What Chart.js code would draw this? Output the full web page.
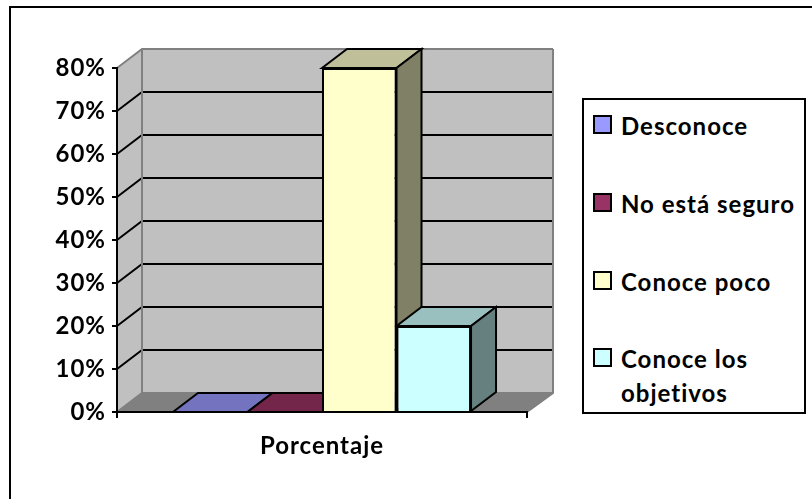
<!DOCTYPE html>
<html>
<head>
<meta charset="utf-8">
<script src="https://cdn.jsdelivr.net/npm/chart.js@4/dist/chart.umd.min.js"></script>
<style>
    html, body { margin: 0; padding: 0; background: #fff; }
    #wrap { position: relative; width: 812px; height: 499px; overflow: hidden; font-family: Lato, sans-serif; }
    #frame { position: absolute; left: 9px; top: 6px; width: 900px; height: 900px; border: 2px solid #000; box-sizing: content-box; }
    #chart { position: absolute; left: 0; top: 0; }
    #legend { position: absolute; left: 582px; top: 98px; width: 220px; height: 312px; border: 2px solid #000; background: #fff; }
    .item { position: absolute; left: 37px; width: 182px; font-size: 24px; font-weight: 700; letter-spacing: 1px; line-height: 34px; color: #000; }
    .swatch { position: absolute; left: 9px; width: 15px; height: 15px; border: 2px solid #000; }
</style>
</head>
<body>
<div id="wrap">
    <div id="frame"></div>
    <canvas id="chart" width="812" height="499"></canvas>
    <div id="legend"></div>
</div>
<script>
// --- Data ---
const categories = ['Porcentaje'];
const seriesNames = ['Desconoce', 'No está seguro', 'Conoce poco', 'Conoce los objetivos'];
const seriesValues = [0, 0, 80, 20];
const yTicks = [0, 10, 20, 30, 40, 50, 60, 70, 80];

// --- Colours (front, top, side) ---
const frontColors = ['#9999ff', '#993366', '#ffffcc', '#ccffff'];
const topColors = ['#7373bf', '#732649', '#bfbf99', '#99bfbf'];
const sideColors = ['#666680', '#4d1a33', '#808066', '#668080'];

// depth of the fake 3d box
const depthX = 25;
const depthY = 19;

function poly(ctx, pts, fill, stroke, width) {
    ctx.beginPath();
    pts.forEach((p, i) => i ? ctx.lineTo(p[0], p[1]) : ctx.moveTo(p[0], p[1]));
    ctx.closePath();
    if (fill) {
        ctx.fillStyle = fill;
        ctx.fill();
    }
    if (stroke) {
        ctx.strokeStyle = stroke;
        ctx.lineWidth = width;
        ctx.stroke();
    }
}

// walls, floor and gridlines go under the axes
const walls = {
    id: 'walls',
    beforeDraw(chart) {
        const { ctx, chartArea: a, scales: { y } } = chart;
        ctx.letterSpacing = '1px';
        const wallRight = a.right + depthX + 1;
        poly(ctx, [[a.left + depthX, a.top - depthY], [wallRight, a.top - depthY], [wallRight, a.bottom - depthY], [a.left + depthX, a.bottom - depthY]], '#c0c0c0');
        poly(ctx, [[a.left, a.top], [a.left + depthX, a.top - depthY], [a.left + depthX, a.bottom - depthY], [a.left, a.bottom]], '#c0c0c0');
        poly(ctx, [[a.left, a.bottom], [a.left + depthX, a.bottom - depthY], [wallRight, a.bottom - depthY], [a.right, a.bottom]], '#808080');

        yTicks.forEach(v => {
            const py = y.getPixelForValue(v);
            const edge = v === yTicks[0] || v === yTicks[yTicks.length - 1];
            ctx.beginPath();
            ctx.moveTo(a.left, py);
            ctx.lineTo(a.left + depthX, py - depthY);
            ctx.lineTo(wallRight, py - depthY);
            ctx.strokeStyle = edge ? '#808080' : '#000';
            ctx.lineWidth = 2;
            ctx.stroke();
        });

        ctx.beginPath();
        ctx.moveTo(a.left + depthX, a.top - depthY);
        ctx.lineTo(a.left + depthX, a.bottom - depthY);
        ctx.moveTo(wallRight, a.top - depthY);
        ctx.lineTo(wallRight, a.bottom - depthY);
        ctx.lineTo(a.right, a.bottom);
        ctx.strokeStyle = '#808080';
        ctx.lineWidth = 2;
        ctx.stroke();
    },
    // top and side of every bar, left to right, before the front faces
    beforeDatasetsDraw(chart) {
        const { ctx } = chart;
        seriesNames.forEach((name, i) => {
            const bar = chart.getDatasetMeta(i).data[0];
            const left = bar.x - bar.width / 2;
            const right = bar.x + bar.width / 2;
            poly(ctx, [[left, bar.y], [left + depthX, bar.y - depthY], [right + depthX, bar.y - depthY], [right, bar.y]], topColors[i], '#000', 2);
            if (bar.base > bar.y) {
                poly(ctx, [[right, bar.y], [right + depthX, bar.y - depthY], [right + depthX, bar.base - depthY], [right, bar.base]], sideColors[i], '#000', 2);
            }
        });
    }
};

new Chart(document.getElementById('chart'), {
    type: 'bar',
    data: {
        labels: categories,
        datasets: seriesNames.map((name, i) => ({
            label: name,
            data: [seriesValues[i]],
            backgroundColor: frontColors[i],
            borderColor: '#000',
            borderWidth: seriesValues[i] ? 2 : 0
        }))
    },
    options: {
        responsive: false,
        animation: false,
        categoryPercentage: 0.727,
        barPercentage: 1,
        layout: { padding: { top: 68, right: 285, left: 0, bottom: 0 } },
        plugins: { legend: { display: false }, tooltip: { enabled: false } },
        scales: {
            x: {
                afterFit: s => { s.height = 87; },
                grid: { offset: true, drawOnChartArea: false, tickLength: 6, color: '#000', lineWidth: 2 },
                border: { color: '#000', width: 2 },
                ticks: { color: '#000', padding: 14, font: { family: 'Lato', size: 24, weight: 'bold' } }
            },
            y: {
                min: 0,
                max: 80,
                afterFit: s => { s.width = 117; },
                afterBuildTicks: s => { s.ticks = yTicks.map(v => ({ value: v })); },
                grid: { drawOnChartArea: false, tickLength: 5, color: '#000', lineWidth: 2 },
                border: { color: '#000', width: 2 },
                ticks: { color: '#000', padding: 6, callback: v => v + '%', font: { family: 'Lato', size: 24, weight: 'bold' } }
            }
        }
    },
    plugins: [walls]
});

// --- Legend ---
const legend = document.getElementById('legend');
const legendTops = [9, 87, 165, 242];
seriesNames.forEach((name, i) => {
    const sw = document.createElement('div');
    sw.className = 'swatch';
    sw.style.top = (legendTops[i] + 6) + 'px';
    sw.style.background = frontColors[i];
    const item = document.createElement('div');
    item.className = 'item';
    item.style.top = legendTops[i] + 'px';
    item.textContent = name;
    legend.appendChild(sw);
    legend.appendChild(item);
});
</script>
</body>
</html>
